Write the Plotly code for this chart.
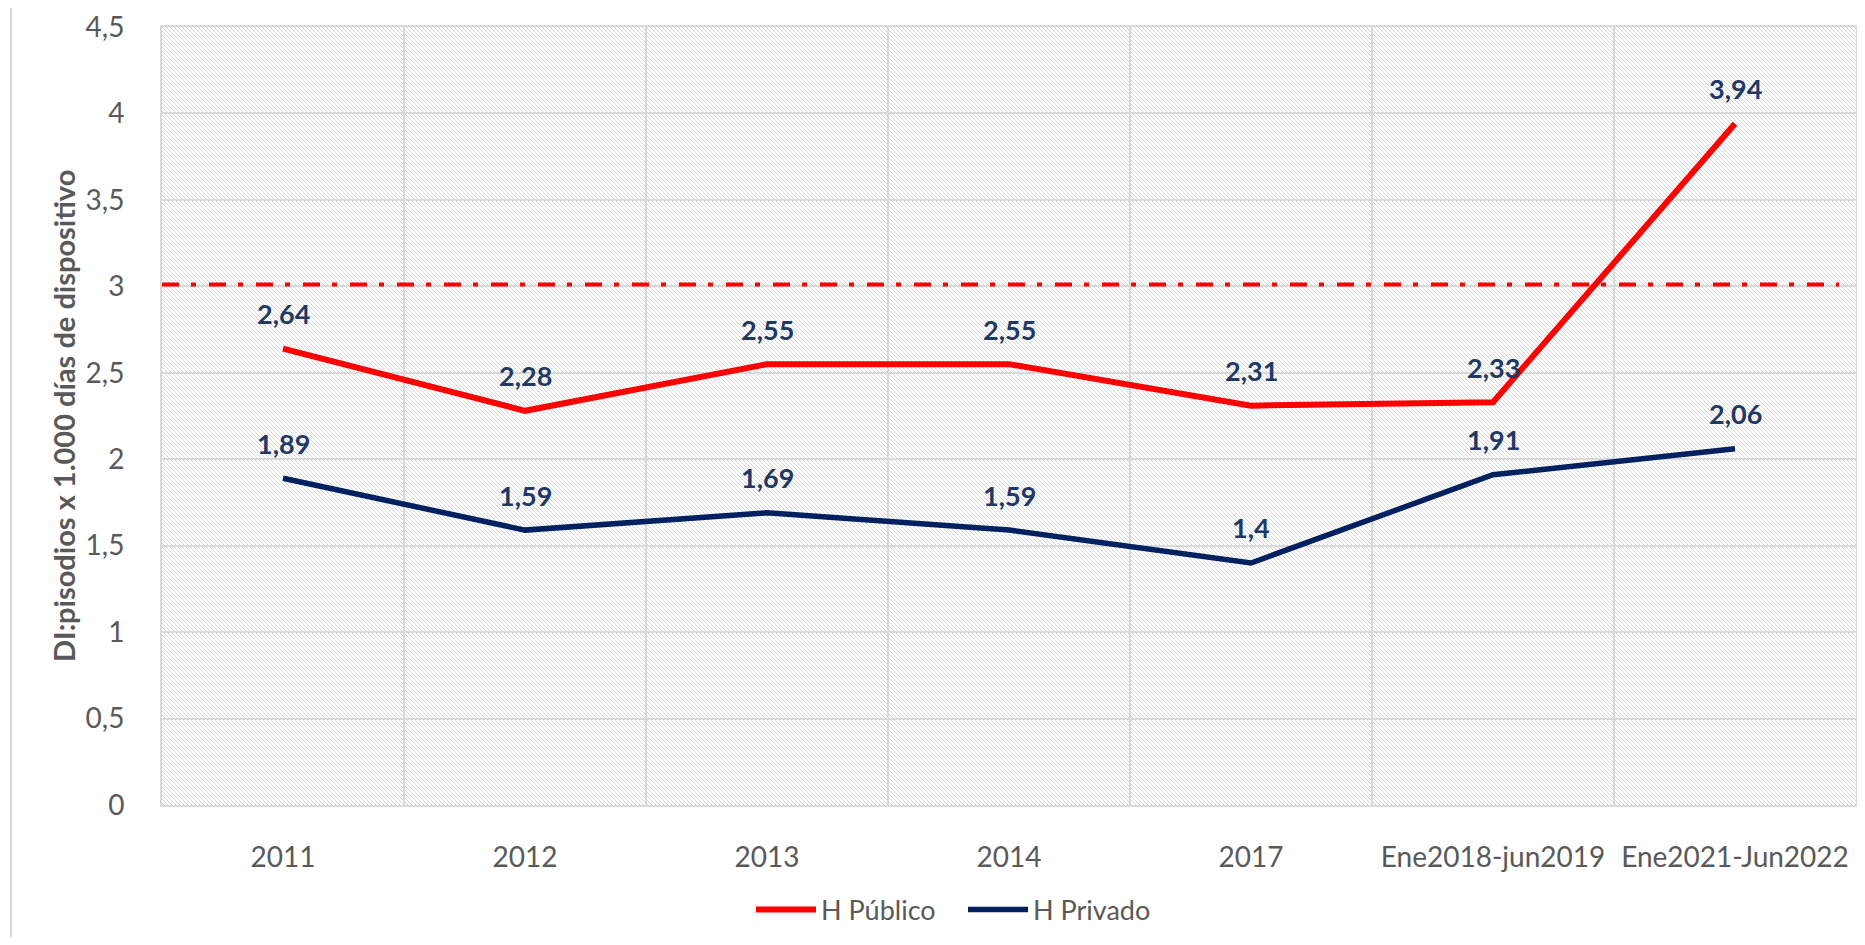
import base64
import plotly.graph_objects as go

# ---- data ----
categories = ["2011", "2012", "2013", "2014", "2017", "Ene2018-jun2019", "Ene2021-Jun2022"]
publico = [2.64, 2.28, 2.55, 2.55, 2.31, 2.33, 3.94]
privado = [1.89, 1.59, 1.69, 1.59, 1.4, 1.91, 2.06]
series_names = ["H Público", "H Privado"]
threshold = 3.01
y_title = "DI:pisodios x 1.000 días de dispositivo"

# ---- style ----
OFF = 8                      # page body margin offset
W, H = 1865 - 2 * OFF, 945 - 2 * OFF
ML, MT = 162 - OFF, 27 - OFF
MR = 1
MB = H - (805 - OFF)
PW, PH = W - ML - MR, H - MT - MB
FONT = "Lato"
GRID = "#d9d9d9"
TICK = "#595959"
LABEL = "#1F3864"
RED = "#FF0000"
NAVY = "#002060"
HATCH = "#d8d8d8"


def px(sx):
    return (sx - OFF - ML) / PW


def py(sy):
    return ((H - MB) - (sy - OFF)) / PH


# hatch background for plot area
svg = (
    f'<svg xmlns="http://www.w3.org/2000/svg" width="{PW}" height="{PH}" '
    f'viewBox="0 0 {PW} {PH}" shape-rendering="crispEdges">'
    '<defs><pattern id="p" width="4" height="4" patternUnits="userSpaceOnUse">'
    '<rect width="4" height="4" fill="#ffffff"/>'
    f'<rect x="0" y="0" width="1" height="1" fill="{HATCH}"/>'
    f'<rect x="1" y="1" width="1" height="1" fill="{HATCH}"/>'
    f'<rect x="2" y="2" width="1" height="1" fill="{HATCH}"/>'
    f'<rect x="3" y="3" width="1" height="1" fill="{HATCH}"/>'
    '</pattern></defs>'
    f'<rect x="0" y="0" width="{PW}" height="{PH}" fill="url(#p)"/></svg>'
)
svg_uri = "data:image/svg+xml;base64," + base64.b64encode(svg.encode()).decode()

fig = go.Figure()
fig.add_trace(go.Scatter(x=categories, y=publico, mode="lines", name=series_names[0],
                         line=dict(color=RED, width=6)))
fig.add_trace(go.Scatter(x=categories, y=privado, mode="lines", name=series_names[1],
                         line=dict(color=NAVY, width=5.5)))

annotations = []
for vals in (publico, privado):
    for i, v in enumerate(vals):
        annotations.append(dict(
            x=i, y=v, xref="x", yref="y", text=f"{v:g}".replace(".", ","),
            showarrow=False, yshift=35, yanchor="middle",
            font=dict(family=FONT, size=27, color=LABEL, weight="bold"),
        ))

annotations.append(dict(
    x=px(63), y=py(416), xref="paper", yref="paper", text=f"<b>{y_title}</b>",
    textangle=-90, showarrow=False, xanchor="center", yanchor="middle",
    font=dict(family=FONT, size=29, color=TICK),
))

shapes = [
    dict(type="line", xref="paper", yref="y", x0=0, x1=px(1839), y0=threshold, y1=threshold,
         line=dict(color=RED, width=4, dash="17px,12px,5px,13px")),
    dict(type="line", xref="paper", yref="paper", x0=px(11), x1=px(11),
         y0=py(945), y1=py(0), line=dict(color=GRID, width=2)),
]

fig.update_layout(
    width=W, height=H,
    margin=dict(l=ML, r=MR, t=MT, b=MB, autoexpand=False),
    paper_bgcolor="white", plot_bgcolor="rgba(0,0,0,0)",
    separators=",.",
    font=dict(family=FONT, color=TICK),
    showlegend=True,
    legend=dict(orientation="h", x=px(963), xanchor="center",
                y=py(910), yanchor="middle",
                font=dict(family=FONT, size=27, color=TICK), itemwidth=60,
                entrywidth=137, entrywidthmode="pixels",
                bgcolor="rgba(0,0,0,0)"),
    images=[dict(source=svg_uri, xref="paper", yref="paper", x=0, y=1, sizex=1, sizey=1,
                 sizing="stretch", layer="below", xanchor="left", yanchor="top")],
    annotations=annotations,
    shapes=shapes,
)

fig.update_xaxes(type="category", categoryorder="array", categoryarray=categories,
                 range=[-0.5, len(categories) - 0.5], tickson="boundaries",
                 showgrid=True, gridcolor=GRID, gridwidth=2,
                 showline=True, mirror=True, linecolor=GRID, linewidth=2,
                 ticks="", ticklabelstandoff=26, automargin=False,
                 tickfont=dict(family=FONT, size=28, color=TICK), zeroline=False)
fig.update_yaxes(range=[0, 4.5], dtick=0.5, tick0=0,
                 showgrid=True, gridcolor=GRID, gridwidth=2,
                 showline=True, mirror=True, linecolor=GRID, linewidth=2,
                 ticks="", ticklabelstandoff=30, zeroline=False, automargin=False,
                 tickfont=dict(family=FONT, size=28, color=TICK))

fig.write_html("out.html")
